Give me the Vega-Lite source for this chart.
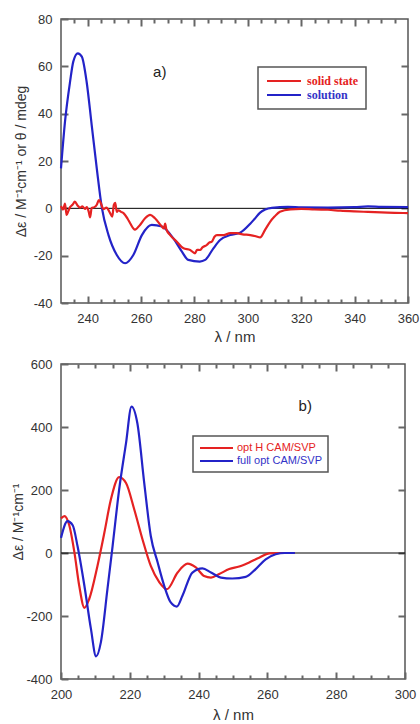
{
  "$schema": "https://vega.github.io/schema/vega-lite/v6.json",
  "padding": {"left": 11, "top": 12, "right": 0, "bottom": 0},
  "spacing": 12,
  "resolve": {"scale": {"color": "independent"}, "legend": {"color": "independent"}},
  "config": {
    "view": {"stroke": "#555555", "strokeWidth": 1.5},
    "font": "Liberation Sans",
    "axis": {"grid": false, "domain": false, "labelFont": "Liberation Sans", "labelFontSize": 13, "labelColor": "#333333", "titleFont": "Liberation Sans", "titleColor": "#333333", "titleFontWeight": "normal", "tickColor": "#666666", "tickWidth": 2, "tickOpacity": 1, "labelFlush": false}
  },
  "datasets": {
    "a": [
      {"series": "solution", "nm": 230, "v": 16.9},
      {"series": "solution", "nm": 231.5, "v": 36.6},
      {"series": "solution", "nm": 233.4, "v": 53.5},
      {"series": "solution", "nm": 234.6, "v": 62},
      {"series": "solution", "nm": 236.3, "v": 65.5},
      {"series": "solution", "nm": 237.8, "v": 64.1},
      {"series": "solution", "nm": 239.6, "v": 53.5},
      {"series": "solution", "nm": 241.5, "v": 35.2},
      {"series": "solution", "nm": 243.4, "v": 16.9},
      {"series": "solution", "nm": 245.3, "v": 0.3},
      {"series": "solution", "nm": 247.8, "v": -11.3},
      {"series": "solution", "nm": 250.9, "v": -19.7},
      {"series": "solution", "nm": 254, "v": -23.2},
      {"series": "solution", "nm": 257.1, "v": -19.7},
      {"series": "solution", "nm": 260.3, "v": -11.3},
      {"series": "solution", "nm": 264, "v": -7},
      {"series": "solution", "nm": 267.8, "v": -7.7},
      {"series": "solution", "nm": 272.1, "v": -12.7},
      {"series": "solution", "nm": 275.3, "v": -18.3},
      {"series": "solution", "nm": 277.7, "v": -21.8},
      {"series": "solution", "nm": 282, "v": -22.5},
      {"series": "solution", "nm": 284, "v": -21.8},
      {"series": "solution", "nm": 287.1, "v": -16.9},
      {"series": "solution", "nm": 289.6, "v": -13.4},
      {"series": "solution", "nm": 293.4, "v": -11.3},
      {"series": "solution", "nm": 297.1, "v": -10.3},
      {"series": "solution", "nm": 300.9, "v": -6.5},
      {"series": "solution", "nm": 302.5, "v": -4.5},
      {"series": "solution", "nm": 304.6, "v": -1.8},
      {"series": "solution", "nm": 306.5, "v": -0.5},
      {"series": "solution", "nm": 309, "v": 0.2},
      {"series": "solution", "nm": 315, "v": 0.6},
      {"series": "solution", "nm": 320, "v": 0.4},
      {"series": "solution", "nm": 330, "v": 0.3},
      {"series": "solution", "nm": 340, "v": 0.5},
      {"series": "solution", "nm": 345, "v": 0.8},
      {"series": "solution", "nm": 350, "v": 0.6},
      {"series": "solution", "nm": 360, "v": 0.5},
      {"series": "solid state", "nm": 230, "v": 1},
      {"series": "solid state", "nm": 230.8, "v": -0.5},
      {"series": "solid state", "nm": 231.5, "v": 2},
      {"series": "solid state", "nm": 232.1, "v": -2.8},
      {"series": "solid state", "nm": 232.8, "v": -1},
      {"series": "solid state", "nm": 233.4, "v": 0.5},
      {"series": "solid state", "nm": 234.3, "v": 1.5},
      {"series": "solid state", "nm": 235.2, "v": 2.8},
      {"series": "solid state", "nm": 236.2, "v": 1.2},
      {"series": "solid state", "nm": 237.1, "v": 0.3},
      {"series": "solid state", "nm": 238, "v": 0.8},
      {"series": "solid state", "nm": 239, "v": -0.2},
      {"series": "solid state", "nm": 239.7, "v": 0.5},
      {"series": "solid state", "nm": 240.4, "v": -1.5},
      {"series": "solid state", "nm": 240.9, "v": -3.8},
      {"series": "solid state", "nm": 241.5, "v": 0.2},
      {"series": "solid state", "nm": 242.5, "v": 0.5},
      {"series": "solid state", "nm": 243.4, "v": 1.5},
      {"series": "solid state", "nm": 244.2, "v": 3.5},
      {"series": "solid state", "nm": 244.8, "v": 2.5},
      {"series": "solid state", "nm": 245.9, "v": -0.3},
      {"series": "solid state", "nm": 247, "v": 0.3},
      {"series": "solid state", "nm": 248.4, "v": -2},
      {"series": "solid state", "nm": 249.2, "v": -3.5},
      {"series": "solid state", "nm": 249.8, "v": 1.5},
      {"series": "solid state", "nm": 250.3, "v": 2.3},
      {"series": "solid state", "nm": 250.9, "v": -1.5},
      {"series": "solid state", "nm": 251.5, "v": -0.8},
      {"series": "solid state", "nm": 252.5, "v": -1.5},
      {"series": "solid state", "nm": 253.4, "v": -2},
      {"series": "solid state", "nm": 255, "v": -4.5},
      {"series": "solid state", "nm": 255.9, "v": -6.3},
      {"series": "solid state", "nm": 257.7, "v": -9},
      {"series": "solid state", "nm": 259.6, "v": -7},
      {"series": "solid state", "nm": 261.5, "v": -4.2},
      {"series": "solid state", "nm": 263.4, "v": -2.8},
      {"series": "solid state", "nm": 265.2, "v": -4.2},
      {"series": "solid state", "nm": 267.8, "v": -7.7},
      {"series": "solid state", "nm": 268.5, "v": -8.5},
      {"series": "solid state", "nm": 269, "v": -6.5},
      {"series": "solid state", "nm": 269.5, "v": -9},
      {"series": "solid state", "nm": 270.9, "v": -11.3},
      {"series": "solid state", "nm": 273.4, "v": -14.1},
      {"series": "solid state", "nm": 275.9, "v": -16.9},
      {"series": "solid state", "nm": 278.4, "v": -17.6},
      {"series": "solid state", "nm": 280.2, "v": -19},
      {"series": "solid state", "nm": 281, "v": -17.5},
      {"series": "solid state", "nm": 282.1, "v": -17.6},
      {"series": "solid state", "nm": 283, "v": -16.5},
      {"series": "solid state", "nm": 284.6, "v": -15.5},
      {"series": "solid state", "nm": 285.5, "v": -14.5},
      {"series": "solid state", "nm": 286.5, "v": -14.1},
      {"series": "solid state", "nm": 287.5, "v": -12},
      {"series": "solid state", "nm": 288.4, "v": -11.3},
      {"series": "solid state", "nm": 290.9, "v": -11.3},
      {"series": "solid state", "nm": 293.4, "v": -10.5},
      {"series": "solid state", "nm": 295.9, "v": -10.5},
      {"series": "solid state", "nm": 298, "v": -11},
      {"series": "solid state", "nm": 300.9, "v": -11.3},
      {"series": "solid state", "nm": 303, "v": -11.8},
      {"series": "solid state", "nm": 304.6, "v": -12.3},
      {"series": "solid state", "nm": 306.5, "v": -9},
      {"series": "solid state", "nm": 308.4, "v": -5.6},
      {"series": "solid state", "nm": 310, "v": -3.5},
      {"series": "solid state", "nm": 312, "v": -1.4},
      {"series": "solid state", "nm": 316, "v": -0.4},
      {"series": "solid state", "nm": 320, "v": -0.2},
      {"series": "solid state", "nm": 325, "v": -0.5},
      {"series": "solid state", "nm": 330, "v": -0.6},
      {"series": "solid state", "nm": 334.6, "v": -1},
      {"series": "solid state", "nm": 340, "v": -1.3},
      {"series": "solid state", "nm": 345, "v": -1.5},
      {"series": "solid state", "nm": 350, "v": -1.7},
      {"series": "solid state", "nm": 355, "v": -1.9},
      {"series": "solid state", "nm": 360, "v": -2}
    ],
    "b": [
      {"series": "opt H CAM/SVP", "nm": 200, "v": 110},
      {"series": "opt H CAM/SVP", "nm": 201, "v": 117},
      {"series": "opt H CAM/SVP", "nm": 202.4, "v": 88},
      {"series": "opt H CAM/SVP", "nm": 203.9, "v": 2},
      {"series": "opt H CAM/SVP", "nm": 205.3, "v": -104},
      {"series": "opt H CAM/SVP", "nm": 206.8, "v": -174},
      {"series": "opt H CAM/SVP", "nm": 208.2, "v": -146},
      {"series": "opt H CAM/SVP", "nm": 210.6, "v": -41},
      {"series": "opt H CAM/SVP", "nm": 212.6, "v": 64},
      {"series": "opt H CAM/SVP", "nm": 214.5, "v": 170},
      {"series": "opt H CAM/SVP", "nm": 216.9, "v": 241},
      {"series": "opt H CAM/SVP", "nm": 218.9, "v": 222},
      {"series": "opt H CAM/SVP", "nm": 221.3, "v": 138},
      {"series": "opt H CAM/SVP", "nm": 223.7, "v": 43},
      {"series": "opt H CAM/SVP", "nm": 226.1, "v": -41},
      {"series": "opt H CAM/SVP", "nm": 228.6, "v": -93},
      {"series": "opt H CAM/SVP", "nm": 230.8, "v": -115},
      {"series": "opt H CAM/SVP", "nm": 233.9, "v": -62},
      {"series": "opt H CAM/SVP", "nm": 236.8, "v": -34},
      {"series": "opt H CAM/SVP", "nm": 239.2, "v": -46},
      {"series": "opt H CAM/SVP", "nm": 241.6, "v": -73},
      {"series": "opt H CAM/SVP", "nm": 243.6, "v": -78},
      {"series": "opt H CAM/SVP", "nm": 246, "v": -67},
      {"series": "opt H CAM/SVP", "nm": 248.9, "v": -51},
      {"series": "opt H CAM/SVP", "nm": 251.8, "v": -43},
      {"series": "opt H CAM/SVP", "nm": 254.7, "v": -30},
      {"series": "opt H CAM/SVP", "nm": 257.6, "v": -15},
      {"series": "opt H CAM/SVP", "nm": 260.5, "v": -1},
      {"series": "opt H CAM/SVP", "nm": 264, "v": 0},
      {"series": "opt H CAM/SVP", "nm": 268, "v": 0},
      {"series": "full opt CAM/SVP", "nm": 200, "v": 48},
      {"series": "full opt CAM/SVP", "nm": 201.9, "v": 101},
      {"series": "full opt CAM/SVP", "nm": 203.4, "v": 88},
      {"series": "full opt CAM/SVP", "nm": 204.8, "v": 22},
      {"series": "full opt CAM/SVP", "nm": 206.8, "v": -104},
      {"series": "full opt CAM/SVP", "nm": 208.7, "v": -241},
      {"series": "full opt CAM/SVP", "nm": 210.2, "v": -328},
      {"series": "full opt CAM/SVP", "nm": 211.6, "v": -283},
      {"series": "full opt CAM/SVP", "nm": 213.5, "v": -115},
      {"series": "full opt CAM/SVP", "nm": 215, "v": 22},
      {"series": "full opt CAM/SVP", "nm": 216.9, "v": 201},
      {"series": "full opt CAM/SVP", "nm": 218.9, "v": 349},
      {"series": "full opt CAM/SVP", "nm": 220.5, "v": 465},
      {"series": "full opt CAM/SVP", "nm": 222.2, "v": 412},
      {"series": "full opt CAM/SVP", "nm": 224.2, "v": 222},
      {"series": "full opt CAM/SVP", "nm": 226.1, "v": 54},
      {"series": "full opt CAM/SVP", "nm": 228.1, "v": -30},
      {"series": "full opt CAM/SVP", "nm": 230, "v": -104},
      {"series": "full opt CAM/SVP", "nm": 231.9, "v": -157},
      {"series": "full opt CAM/SVP", "nm": 233.7, "v": -170},
      {"series": "full opt CAM/SVP", "nm": 235.3, "v": -136},
      {"series": "full opt CAM/SVP", "nm": 238.2, "v": -62},
      {"series": "full opt CAM/SVP", "nm": 241.1, "v": -49},
      {"series": "full opt CAM/SVP", "nm": 243.6, "v": -62},
      {"series": "full opt CAM/SVP", "nm": 246.5, "v": -78},
      {"series": "full opt CAM/SVP", "nm": 249.8, "v": -81},
      {"series": "full opt CAM/SVP", "nm": 253.7, "v": -76},
      {"series": "full opt CAM/SVP", "nm": 256.6, "v": -51},
      {"series": "full opt CAM/SVP", "nm": 259.5, "v": -20},
      {"series": "full opt CAM/SVP", "nm": 262.4, "v": -4},
      {"series": "full opt CAM/SVP", "nm": 265, "v": 0},
      {"series": "full opt CAM/SVP", "nm": 268, "v": 0}
    ],
    "labelA": [{"label": "a)", "nm": 267, "v": 57.6}],
    "labelB": [{"label": "b)", "nm": 271, "v": 468}],
    "zero": [{"v": 0}]
  },
  "vconcat": [
    {
      "width": 347,
      "height": 284,
      "resolve": {"axis": {"x": "independent", "y": "independent"}},
      "layer": [
        {
          "data": {"name": "zero"},
          "mark": {"type": "rule", "color": "#000000", "strokeWidth": 1},
          "encoding": {
            "y": {"field": "v", "type": "quantitative", "scale": {"domain": [-40, 80], "nice": false, "zero": false}, "axis": null}
          }
        },
        {
          "data": {"name": "a"},
          "mark": {"type": "line", "strokeWidth": 2.2, "interpolate": "monotone"},
          "encoding": {
            "x": {"field": "nm", "type": "quantitative", "scale": {"domain": [230, 360], "nice": false, "zero": false},
                  "axis": {"orient": "bottom", "title": "λ / nm", "values": [240, 260, 280, 300, 320, 340, 360], "ticks": true, "tickSize": -7, "labelPadding": 16, "titlePadding": 4, "titleFontSize": 15}},
            "y": {"field": "v", "type": "quantitative", "scale": {"domain": [-40, 80], "nice": false, "zero": false},
                  "axis": {"orient": "left", "title": "Δε / M⁻¹cm⁻¹ or θ / mdeg", "values": [-40, -20, 0, 20, 40, 60, 80], "labelExpr": "'' + datum.value", "ticks": true, "tickSize": -7, "labelPadding": 16, "titlePadding": 5, "titleFontSize": 14}},
            "color": {"field": "series", "type": "nominal",
                      "scale": {"domain": ["solid state", "solution"], "range": ["#e52222", "#2323c8"]},
                      "legend": {"orient": "none", "legendX": 197, "legendY": 48, "title": null, "symbolType": "M-1.11,0H6.44", "symbolSize": 81, "symbolStrokeWidth": 2.2, "labelFont": "Liberation Serif", "labelFontWeight": "bold", "labelFontSize": 12, "labelOffset": 29, "padding": 8, "rowPadding": 2, "strokeColor": "#555555", "fillColor": "#ffffff",
                                 "encode": {"labels": {"update": {"fill": {"signal": "datum.value === 'solid state' ? '#e52222' : '#3333c8'"}}}, "legend": {"update": {"strokeWidth": {"value": 1.5}}}}}}
          }
        },
        {
          "data": {"name": "labelA"},
          "mark": {"type": "text", "fontSize": 15, "color": "#222222", "font": "Liberation Sans"},
          "encoding": {
            "text": {"field": "label"},
            "x": {"field": "nm", "type": "quantitative", "scale": {"domain": [230, 360], "nice": false, "zero": false},
                  "axis": {"orient": "top", "title": null, "labels": false, "ticks": true, "values": [235, 240, 245, 250, 255, 260, 265, 270, 275, 280, 285, 290, 295, 300, 305, 310, 315, 320, 325, 330, 335, 340, 345, 350, 355], "tickSize": {"condition": {"test": "datum.value % 20 === 0", "value": -7}, "value": -4}}},
            "y": {"field": "v", "type": "quantitative", "scale": {"domain": [-40, 80], "nice": false, "zero": false},
                  "axis": {"orient": "right", "title": null, "labels": false, "ticks": true, "values": [-20, 0, 20, 40, 60], "tickSize": -7}}
          }
        },
        {
          "data": {"name": "labelA"},
          "mark": {"type": "point", "opacity": 0},
          "encoding": {
            "x": {"field": "nm", "type": "quantitative", "scale": {"domain": [230, 360], "nice": false, "zero": false},
                  "axis": {"orient": "bottom", "title": null, "labels": false, "ticks": true, "values": [235, 245, 250, 255, 265, 270, 275, 285, 290, 295, 305, 310, 315, 325, 330, 335, 345, 350, 355], "tickSize": -4}}
          }
        }
      ]
    },
    {
      "width": 344,
      "height": 315,
      "resolve": {"axis": {"x": "independent", "y": "independent"}},
      "layer": [
        {
          "data": {"name": "zero"},
          "mark": {"type": "rule", "color": "#000000", "strokeWidth": 1},
          "encoding": {
            "y": {"field": "v", "type": "quantitative", "scale": {"domain": [-400, 600], "nice": false, "zero": false}, "axis": null}
          }
        },
        {
          "data": {"name": "b"},
          "mark": {"type": "line", "strokeWidth": 2.2, "interpolate": "monotone"},
          "encoding": {
            "x": {"field": "nm", "type": "quantitative", "scale": {"domain": [200, 300], "nice": false, "zero": false},
                  "axis": {"orient": "bottom", "title": "λ / nm", "values": [200, 220, 240, 260, 280, 300], "ticks": true, "tickSize": -7, "labelPadding": 16, "titlePadding": 6, "titleFontSize": 15}},
            "y": {"field": "v", "type": "quantitative", "scale": {"domain": [-400, 600], "nice": false, "zero": false},
                  "axis": {"orient": "left", "title": "Δε / M⁻¹cm⁻¹", "values": [-400, -200, 0, 200, 400, 600], "labelExpr": "'' + datum.value", "ticks": true, "tickSize": -7, "labelPadding": 16, "titlePadding": 0, "titleFontSize": 14}},
            "color": {"field": "series", "type": "nominal",
                      "scale": {"domain": ["opt H CAM/SVP", "full opt CAM/SVP"], "range": ["#e52222", "#2323c8"]},
                      "legend": {"orient": "none", "legendX": 132, "legendY": 72, "title": null, "symbolType": "M-1.11,0H6.22", "symbolSize": 81, "symbolStrokeWidth": 2.2, "labelFont": "Liberation Sans", "labelFontSize": 11, "labelOffset": 26, "padding": 6, "rowPadding": 2, "strokeColor": "#555555", "fillColor": "#ffffff",
                                 "encode": {"labels": {"update": {"fill": {"signal": "datum.value === 'opt H CAM/SVP' ? '#e52222' : '#3333c8'"}}}, "legend": {"update": {"strokeWidth": {"value": 1.5}}}}}}
          }
        },
        {
          "data": {"name": "labelB"},
          "mark": {"type": "text", "fontSize": 15, "color": "#222222", "font": "Liberation Sans"},
          "encoding": {
            "text": {"field": "label"},
            "x": {"field": "nm", "type": "quantitative", "scale": {"domain": [200, 300], "nice": false, "zero": false},
                  "axis": {"orient": "top", "title": null, "labels": false, "ticks": true, "values": [205, 210, 215, 220, 225, 230, 235, 240, 245, 250, 255, 260, 265, 270, 275, 280, 285, 290, 295], "tickSize": {"condition": {"test": "datum.value % 20 === 0", "value": -7}, "value": -4}}},
            "y": {"field": "v", "type": "quantitative", "scale": {"domain": [-400, 600], "nice": false, "zero": false},
                  "axis": {"orient": "right", "title": null, "labels": false, "ticks": true, "values": [-200, 0, 200, 400], "tickSize": -7}}
          }
        },
        {
          "data": {"name": "labelB"},
          "mark": {"type": "point", "opacity": 0},
          "encoding": {
            "x": {"field": "nm", "type": "quantitative", "scale": {"domain": [200, 300], "nice": false, "zero": false},
                  "axis": {"orient": "bottom", "title": null, "labels": false, "ticks": true, "values": [205, 210, 215, 225, 230, 235, 245, 250, 255, 265, 270, 275, 285, 290, 295], "tickSize": -4}}
          }
        }
      ]
    }
  ]
}
